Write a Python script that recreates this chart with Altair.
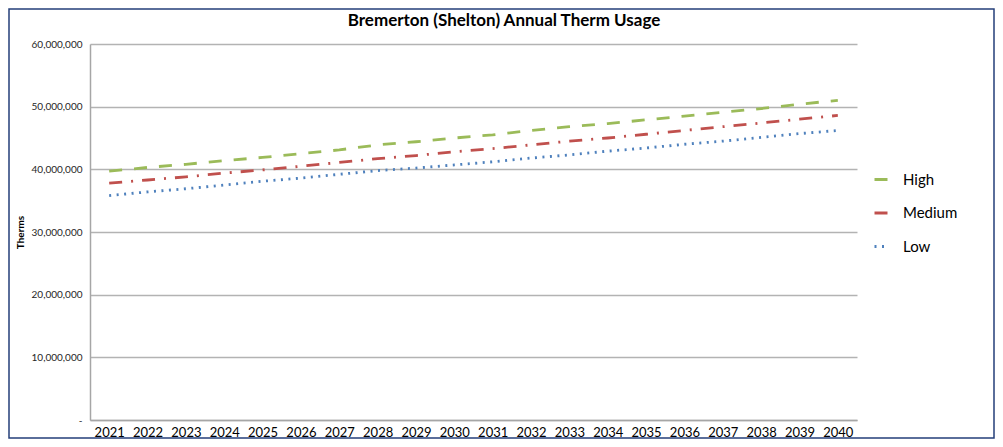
import altair as alt
import pandas as pd

years = [str(y) for y in range(2021, 2041)]
high = [39.7, 40.3, 40.8, 41.4, 41.9, 42.5, 43.1, 43.9, 44.4, 45.0,
        45.5, 46.2, 46.8, 47.3, 47.9, 48.5, 49.1, 49.7, 50.4, 51.0]
medium = [37.8, 38.3, 38.8, 39.4, 39.9, 40.5, 41.1, 41.7, 42.2, 42.8,
          43.3, 43.9, 44.5, 45.0, 45.6, 46.2, 46.8, 47.4, 48.0, 48.6]
low = [35.8, 36.4, 36.9, 37.5, 38.1, 38.6, 39.2, 39.8, 40.2, 40.7,
       41.2, 41.8, 42.3, 42.9, 43.4, 44.0, 44.5, 45.1, 45.7, 46.2]
series = ["High", "Medium", "Low"]
title_text = "Bremerton (Shelton) Annual Therm Usage"

rows = []
for name, vals in zip(series, [high, medium, low]):
    for y, v in zip(years, vals):
        rows.append({"year": y, "series": name, "therms": v * 1_000_000})
df = pd.DataFrame(rows)

FONT = "Lato"

lines = alt.Chart(df).mark_line(strokeWidth=2.8, clip=False).encode(
    x=alt.X("year:O", title=None, sort=years,
            axis=alt.Axis(labelAngle=0, labelFontSize=13, labelColor="#000000",
                          ticks=False, domainColor="#a6a6a6", domainWidth=1.5,
                          labelPadding=6, grid=False, labelFont=FONT)),
    y=alt.Y("therms:Q", title="Therms",
            scale=alt.Scale(domain=[0, 60_000_000]),
            axis=alt.Axis(values=[0, 10_000_000, 20_000_000, 30_000_000, 40_000_000, 50_000_000, 60_000_000],
                          labelExpr="datum.value == 0 ? '-' : format(datum.value, ',')",
                          labelFontSize=10, labelColor="#262626", labelFont=FONT,
                          ticks=False, labelPadding=8,
                          domainColor="#a6a6a6", domainWidth=1.5,
                          gridColor="#b3b3b3", gridWidth=1.3,
                          titleFontSize=10, titleFont=FONT, titleFontWeight="bold",
                          titleColor="#000000", titlePadding=6)),
    color=alt.Color("series:N", title=None,
                    scale=alt.Scale(domain=series, range=["#9BBB59", "#C0504D", "#4F81BD"])),
    strokeDash=alt.StrokeDash("series:N", title=None,
                              scale=alt.Scale(domain=series,
                                              range=[[13, 12], [13, 9, 2, 9], [2, 5.5]])),
    order=alt.Order("year:O"),
)

deco = alt.Chart(pd.DataFrame({"t": [title_text]}))

frame = deco.mark_rect(
    fill=None, stroke="#243f7a", strokeWidth=1.5, clip=False
).encode(
    x=alt.value(-81), x2=alt.value(904),
    y=alt.value(-35), y2=alt.value(394),
)

title = deco.mark_text(
    font=FONT, fontSize=17, fontWeight="bold", color="#000000",
    align="center", baseline="middle", clip=False
).encode(
    text="t:N", x=alt.value(414), y=alt.value(-23),
)

chart = alt.layer(frame, title, lines).properties(
    width=767, height=376,
    autosize=alt.AutoSizeParams(type="none"),
    padding={"left": 82, "top": 36, "right": 138, "bottom": 19},
).configure_view(stroke=None).configure_legend(
    orient="none", legendX=783, legendY=127,
    symbolType="stroke", symbolSize=196, symbolStrokeWidth=3,
    labelFontSize=15, labelFont=FONT, labelColor="#000000",
    rowPadding=16.5, labelOffset=13,
)

chart.save("out.html", embed_options={"renderer": "svg", "actions": False})
